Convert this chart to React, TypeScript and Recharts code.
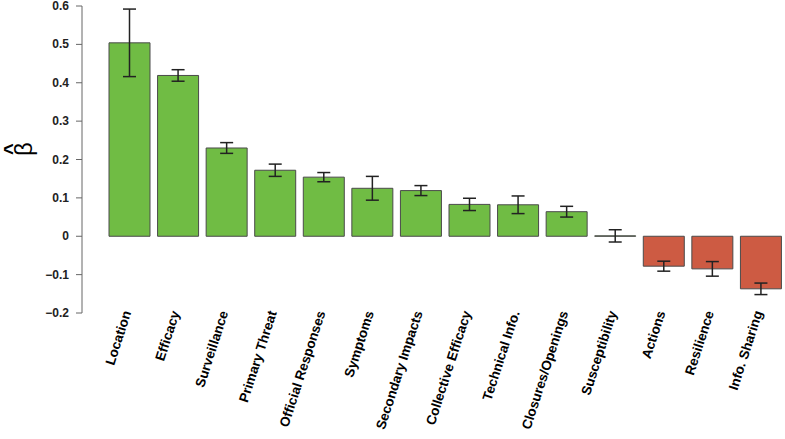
import React from "react";
import { BarChart, Bar, XAxis, YAxis, ErrorBar, Cell } from "recharts";

const categories = [
  "Location",
  "Efficacy",
  "Surveillance",
  "Primary Threat",
  "Official Responses",
  "Symptoms",
  "Secondary Impacts",
  "Collective Efficacy",
  "Technical Info.",
  "Closures/Openings",
  "Susceptibility",
  "Actions",
  "Resilience",
  "Info. Sharing",
];

const betaValues = [0.504, 0.419, 0.23, 0.172, 0.154, 0.125, 0.119, 0.083, 0.082, 0.064, 0.001, -0.078, -0.085, -0.137];
const stdErrors = [0.088, 0.015, 0.014, 0.016, 0.012, 0.031, 0.013, 0.016, 0.023, 0.014, 0.016, 0.013, 0.019, 0.015];
const yTicks = [-0.2, -0.1, 0, 0.1, 0.2, 0.3, 0.4, 0.5, 0.6];

const GREEN = "#70bc44";
const RED = "#cd5b43";
const FONT = "'Liberation Sans', Arial, Helvetica, sans-serif";

const data = categories.map((name, i) => ({ name, value: betaValues[i], err: stdErrors[i] }));

const fmt = (v: number) => (v === 0 ? "0" : v < 0 ? "\u2212" + Math.abs(v).toFixed(1) : v.toFixed(1));

const XTick = (props: any) => {
  const { x, y, payload } = props;
  return (
    <g transform={`translate(${x + 2},${y - 0.5}) rotate(-72)`}>
      <text
        x={0}
        y={0}
        textAnchor="end"
        fontFamily={FONT}
        fontWeight="bold"
        fontSize={13.5}
        fill="#000"
      >
        {payload.value}
      </text>
    </g>
  );
};

const YTick = (props: any) => {
  const { x, y, payload } = props;
  return (
    <text x={x} y={y} dy={4} textAnchor="end" fontFamily={FONT} fontWeight="bold" fontSize={12} fill="#222">
      {fmt(payload.value)}
    </text>
  );
};

const BetaLabel = (props: any) => {
  const vb = props.viewBox || { x: 0, y: 6, width: 82, height: 307 };
  const cy = vb.y + vb.height * 0.466;
  return (
    <g>
      <g transform={`translate(32, ${cy}) rotate(-90)`}>
        <text x={0} y={0} textAnchor="middle" fontFamily={FONT} fontSize={24} fill="#000">
          β
        </text>
      </g>
      <g transform={`translate(17.5, ${cy}) rotate(-90)`}>
        <text x={0} y={0} textAnchor="middle" fontFamily={FONT} fontWeight="bold" fontSize={20} fill="#000">
          ^
        </text>
      </g>
    </g>
  );
};

export default function App() {
  return (
    <div style={{ position: "absolute", left: 0, top: 0, width: 785, height: 439, background: "#fff" }}>
      <BarChart width={785} height={439} data={data} margin={{ top: 6, right: 0, bottom: 0, left: 0 }}>
        <XAxis
          dataKey="name"
          axisLine={false}
          tickLine={false}
          tickSize={0}
          tickMargin={0}
          interval={0}
          height={126}
          padding={{ left: 23, right: 0 }}
          tick={<XTick />}
        />
        <YAxis
          width={82}
          domain={[-0.2, 0.6]}
          ticks={yTicks}
          interval={0}
          allowDataOverflow
          axisLine={{ stroke: "#666", strokeWidth: 1 }}
          tickLine={{ stroke: "#666", strokeWidth: 1 }}
          tickSize={6}
          tickMargin={7}
          tick={<YTick />}
          label={{ content: <BetaLabel /> }}
        />
        <Bar dataKey="value" barSize={41} stroke="#4a4a4a" strokeWidth={1} isAnimationActive={false}>
          {data.map((d, i) => (
            <Cell key={i} fill={d.value < 0 ? RED : GREEN} />
          ))}
          <ErrorBar dataKey="err" width={6.5} stroke="#222" strokeWidth={1.5} direction="y" isAnimationActive={false} />
        </Bar>
      </BarChart>
    </div>
  );
}
